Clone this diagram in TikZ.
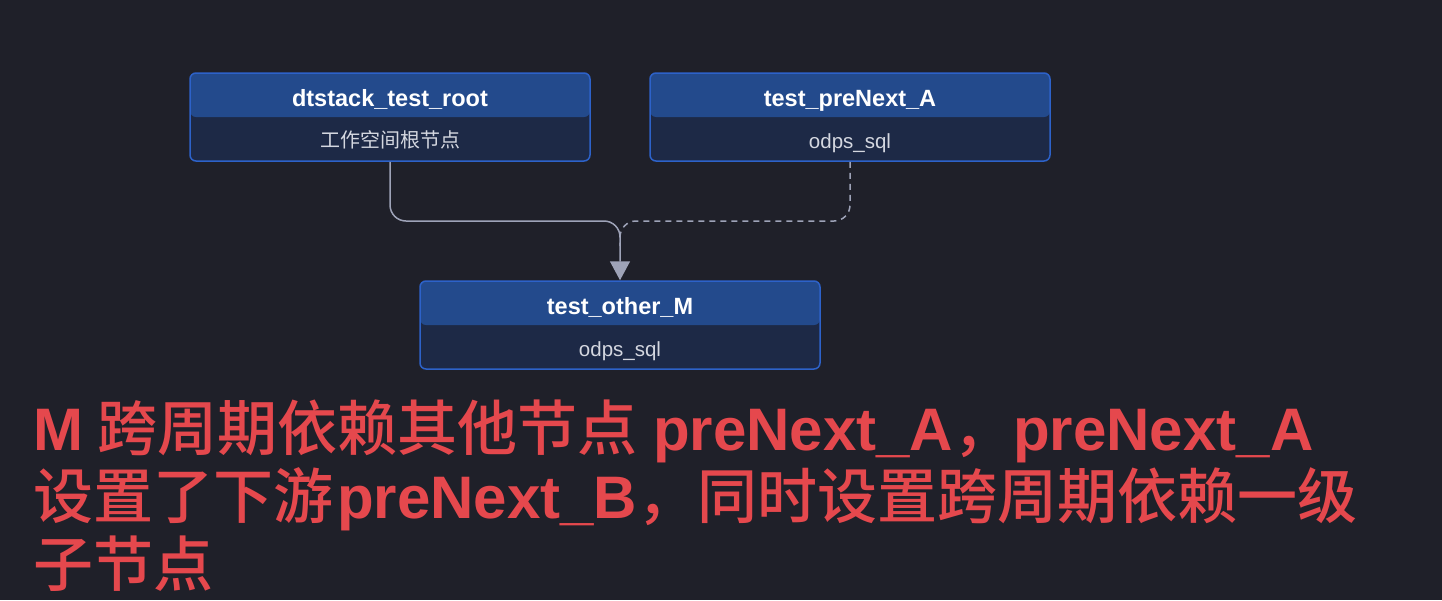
\documentclass[tikz,border=0pt]{standalone}
\usepackage{fontspec}
\setmainfont{Liberation Sans}
\newfontfamily\cjk{Noto Sans CJK SC}
\newfontfamily\cjkm{Noto Sans CJK SC}[UprightFont={* Medium}]
\usetikzlibrary{arrows.meta}
\definecolor{bgc}{HTML}{1F2029}
\definecolor{headc}{HTML}{234A8C}
\definecolor{bodyc}{HTML}{1D2946}
\definecolor{borderc}{HTML}{2D62C9}
\definecolor{edgec}{HTML}{9EA3B8}
\definecolor{redc}{HTML}{E5484D}
\definecolor{subc}{HTML}{D4D7E0}
\newcommand{\zh}[1]{{\cjkm\mdseries #1}}
\tikzset{
  box/.style={draw=borderc, line width=1.5pt, fill=bodyc, rounded corners=6pt,
    minimum width=400pt, minimum height=88pt, inner sep=0pt,
    path picture={\fill[headc] (path picture bounding box.north west) rectangle (path picture bounding box.east);}},
  ttl/.style={text=white, font=\fontsize{23.5}{26}\selectfont\bfseries, inner sep=0pt, anchor=base},
  sub/.style={text=subc, font=\fontsize{20.5}{24}\selectfont, inner sep=0pt, anchor=base},
  edge/.style={draw=edgec, line width=1.5pt, rounded corners=16pt},
  big/.style={text=redc, font=\fontsize{60}{66}\selectfont\bfseries, inner sep=0pt, anchor=base west},
}
\begin{document}
\begin{tikzpicture}[x=1pt,y=-1pt]
\fill[bgc] (0,0) rectangle (1442,600);
\useasboundingbox (0,0) rectangle (1442,600);
% boxes
\node[box] (root) at (390,117) {};
\node[box] (preA) at (850,117) {};
\node[box] (M) at (620,325) {};
% texts
\node[ttl] (rootT) at (390,106) {dtstack\_test\_root};
\node[sub] (rootS) at (390,147) {\cjk\fontsize{20}{24}\selectfont 工作空间根节点};
\node[ttl] (preAT) at (850,106) {test\_preNext\_A};
\node[sub] (preAS) at (850,148) {odps\_sql};
\node[ttl] (MT) at (620,314) {test\_other\_M};
\node[sub] (MS) at (620,356) {odps\_sql};
% edges
\coordinate (mj) at (620,221);
\coordinate (dend) at (620,246);
\draw[edge, dash pattern=on 6pt off 5pt] (preA.south) |- (mj) -- (dend);
\draw[edge, -{Triangle[width=20pt,length=19pt]}] (root.south) |- (mj) -- (M.north);
% caption
\node[big] (l1) at (33,450) {M\hspace{14pt}\zh{跨周期依赖其他节点}\hspace{16pt}preNext\_A\zh{，}preNext\_A};
\node[big] (l2) at (33,518) {\zh{设置了下游}\hspace{4pt}preNext\_B\zh{，同时设置跨周期依赖一级}};
\node[big] (l3) at (33,586) {\zh{子节点}};
\end{tikzpicture}
\end{document}
